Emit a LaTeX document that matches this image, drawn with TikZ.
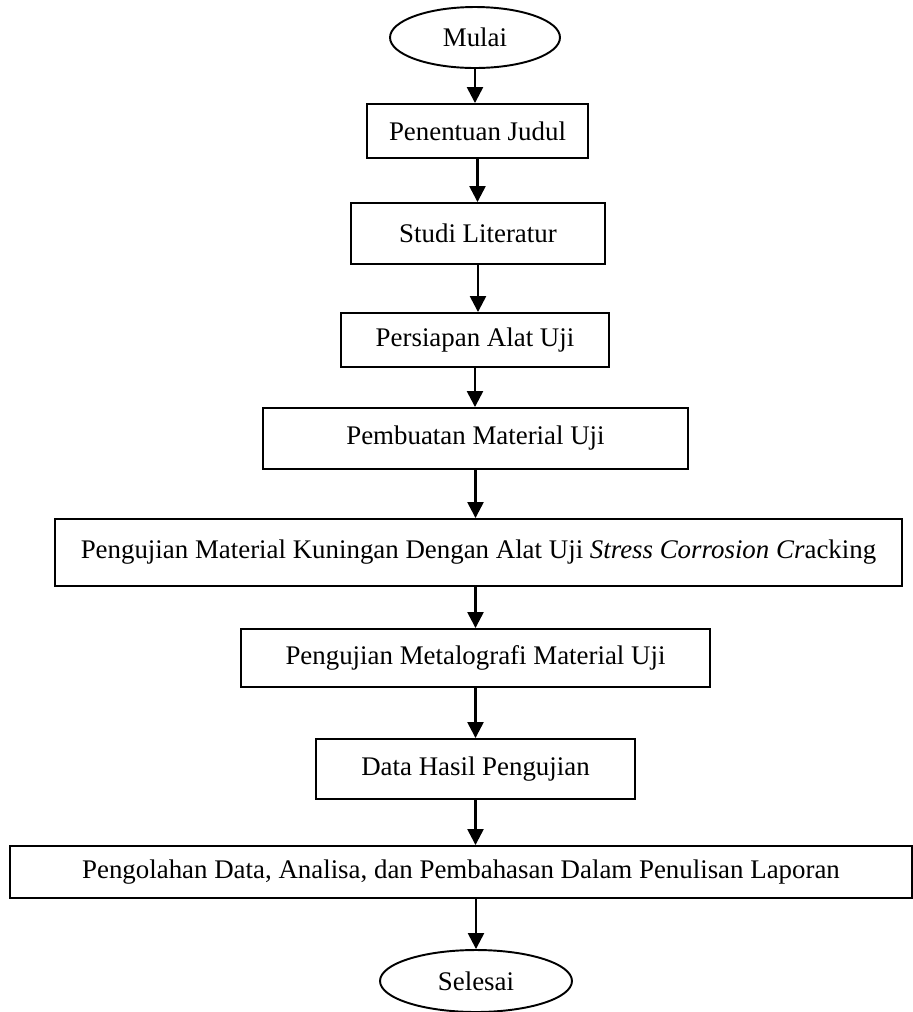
\documentclass[tikz,border=0pt]{standalone}
\usepackage{fontspec}
\setmainfont{Liberation Serif}
\usetikzlibrary{arrows.meta,shapes.geometric}
\begin{document}
\begin{tikzpicture}[x=0.02cm, y=-0.02cm,
    box/.style={draw, line width=1.1pt, inner sep=0pt, font=\fontsize{15.3}{18}\selectfont},
    oval/.style={box, ellipse},
    flow/.style={line width=1.4pt, -{Triangle[width=0.32cm, length=0.32cm]}}]
    \useasboundingbox (0,0) rectangle (913,1012);

    \node[oval, minimum width=3.4cm, minimum height=1.22cm] (mulai) at (475,37.5) {Mulai};
    \node[box, minimum width=4.42cm, minimum height=1.08cm] (judul) at (477.5,131) {Penentuan Judul};
    \node[box, minimum width=5.08cm, minimum height=1.22cm] (studi) at (478,233.5) {Studi Literatur};
    \node[box, minimum width=5.36cm, minimum height=1.08cm] (alat) at (475,340) {Persiapan Alat Uji};
    \node[box, minimum width=8.5cm, minimum height=1.22cm] (buat) at (475.5,438.5) {Pembuatan Material Uji};
    \node[box, minimum width=16.94cm, minimum height=1.34cm] (scc) at (478.5,552.5)
        {Pengujian Material Kuningan Dengan Alat Uji \textit{Stress Corrosion Cr}acking};
    \node[box, minimum width=9.38cm, minimum height=1.16cm] (metal) at (475.5,658) {Pengujian Metalografi Material Uji};
    \node[box, minimum width=6.38cm, minimum height=1.2cm] (hasil) at (475.5,769) {Data Hasil Pengujian};
    \node[box, minimum width=18.04cm, minimum height=1.04cm] (olah) at (461,872)
        {Pengolahan Data, Analisa, dan Pembahasan Dalam Penulisan Laporan};
    \node[oval, minimum width=3.84cm, minimum height=1.24cm] (selesai) at (476,981) {Selesai};

    \draw[flow] (mulai) -- (mulai |- judul.north);
    \draw[flow] (judul) -- (judul |- studi.north);
    \draw[flow] (studi) -- (studi |- alat.north);
    \draw[flow] (alat) -- (alat |- buat.north);
    \draw[flow] (buat) -- (buat |- scc.north);
    \draw[flow] (scc.south -| metal) -- (metal);
    \draw[flow] (metal) -- (metal |- hasil.north);
    \draw[flow] (hasil) -- (hasil |- olah.north);
    \draw[flow] (olah.south -| selesai) -- (selesai);
\end{tikzpicture}
\end{document}
